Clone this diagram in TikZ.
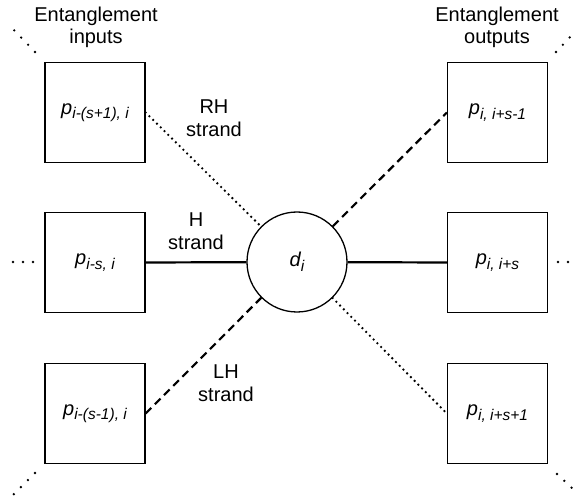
\documentclass[tikz,border=0pt]{standalone}
\usepackage{fontspec}
\setmainfont{Liberation Sans}
% lowered, smaller subscript text
\newcommand\lowsub[1]{\raisebox{-4.5pt}{\fontsize{15.5}{16}\selectfont #1}}
\begin{document}
\begin{tikzpicture}[x=1pt,y=-1pt,
  cell/.style={draw, line width=1.3pt, minimum size=100pt, inner sep=0pt,
    font=\fontsize{20}{24}\selectfont\itshape},
  hub/.style={circle, draw, line width=1.3pt, minimum size=100pt, inner sep=0pt,
    font=\fontsize{20}{24}\selectfont\itshape},
  lbl/.style={font=\fontsize{20}{24}\selectfont, anchor=base, inner sep=0pt},
  hstrand/.style={line width=2.2pt},
  dashstrand/.style={line width=2.2pt, dash pattern=on 8pt off 5pt},
  dotstrand/.style={line width=2.6pt, line cap=round, dash pattern=on 0pt off 5.3pt},
  ellip/.style={line width=2.6pt, line cap=round, dash pattern=on 0pt off 10pt}]
\path[fill=white] (0,0) rectangle (574,500);
\useasboundingbox (0,0) rectangle (574,500);

% central node
\node[hub] (d) at (297,262) {d\lowsub{i}};

% input cells
\node[cell] (in1) at (95,112.5) {p\lowsub{i-(s+1), i}};
\node[cell] (in2) at (95,262.5) {p\lowsub{i-s, i}};
\node[cell] (in3) at (95,413.5) {p\lowsub{i-(s-1), i}};

% output cells
\node[cell] (out1) at (497.5,112.5) {p\lowsub{i, i+s-1}};
\node[cell] (out2) at (497.5,262.5) {p\lowsub{i, i+s}};
\node[cell] (out3) at (497.5,413.5) {p\lowsub{i, i+s+1}};

% column headings
\node[lbl] (hin1) at (96,21.5) {Entanglement};
\node[lbl] (hin2) at (96,43.5) {inputs};
\node[lbl] (hout1) at (497,21.5) {Entanglement};
\node[lbl] (hout2) at (497,43.5) {outputs};

% strand labels
\node[lbl] (rh1) at (214,114) {RH};
\node[lbl] (rh2) at (214,136.5) {strand};
\node[lbl] (h1) at (196,227) {H};
\node[lbl] (h2) at (196,250) {strand};
\node[lbl] (lh1) at (226,378) {LH};
\node[lbl] (lh2) at (226,401.5) {strand};

% strands
\draw[dotstrand] (in1.east) -- (d);
\draw[hstrand] (in2.east) -- (d);
\draw[dashstrand] (in3.east) -- (d);
\draw[dashstrand] (d) -- (out1.west);
\draw[hstrand] (d) -- (out2.west);
\draw[dotstrand] (d) -- (out3.west);

% continuation dots
\coordinate (c1) at (35,52);   \coordinate (c1e) at (12,28);
\coordinate (c2) at (33,262);  \coordinate (c2e) at (12,262);
\coordinate (c3) at (35,473);  \coordinate (c3e) at (12,496);
\coordinate (c4) at (556,52);  \coordinate (c4e) at (572,35);
\coordinate (c5) at (558,262); \coordinate (c5e) at (570,262);
\coordinate (c6) at (557,474); \coordinate (c6e) at (573,489);
\draw[ellip] (c1) -- (c1e);
\draw[ellip] (c2) -- (c2e);
\draw[ellip] (c3) -- (c3e);
\draw[ellip] (c4) -- (c4e);
\draw[ellip] (c5) -- (c5e);
\draw[ellip] (c6) -- (c6e);
\end{tikzpicture}
\end{document}
